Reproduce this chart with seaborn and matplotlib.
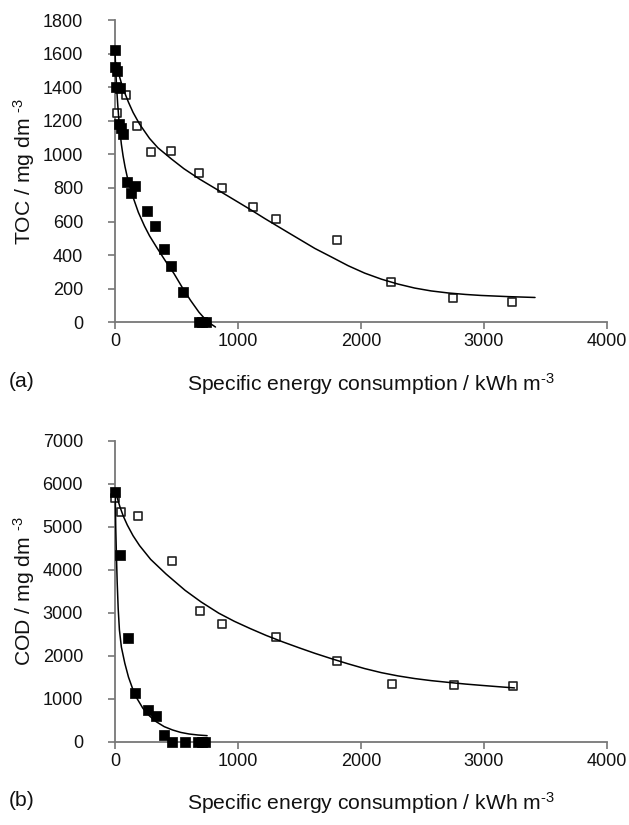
import matplotlib
matplotlib.use("Agg")
import matplotlib.pyplot as plt
import seaborn as sns

# ---------------- data ----------------
# (a) TOC vs specific energy consumption
toc_filled_x = [0, 0, 13, 8, 40, 30, 50, 68, 99, 161, 134, 262, 327, 396, 455, 557, 680, 710, 740]
toc_filled_y = [1620, 1520, 1494, 1404, 1395, 1180, 1155, 1120, 838, 812, 769, 665, 574, 435, 336, 182, 0, 0, 0]

toc_open_x = [20, 88, 176, 289, 455, 686, 866, 1124, 1306, 1801, 2247, 2745, 3227]
toc_open_y = [1246, 1355, 1168, 1013, 1023, 887, 799, 684, 614, 491, 240, 144, 124]

# trend lines (a)
toc_fit_filled_x = [0, 4, 9, 15, 22, 30, 40, 52, 66, 82, 100, 120, 147, 190, 240, 281,
                    340, 415, 480, 549, 615, 683, 750, 817]
toc_fit_filled_y = [1620, 1540, 1460, 1380, 1300, 1222, 1140, 1060, 990, 925, 865, 810, 745,
                    655, 573, 515, 445, 360, 290, 205, 130, 60, 5, -28]

toc_fit_open_x = [13, 25, 40, 60, 80, 110, 147, 200, 281, 348, 455, 560, 683, 820, 950,
                  1100, 1218, 1400, 1625, 1760, 1896, 2030, 2166, 2300, 2437, 2570, 2707,
                  2850, 2977, 3200, 3415]
toc_fit_open_y = [1544, 1500, 1455, 1405, 1365, 1310, 1250, 1180, 1095, 1040, 975, 915, 855,
                  795, 738, 672, 618, 538, 440, 389, 337, 293, 257, 228, 204, 187, 175,
                  166, 160, 153, 148]

# (b) COD vs specific energy consumption
cod_filled_x = [0, 40, 107, 166, 268, 335, 402, 463, 568, 675, 706, 731]
cod_filled_y = [5815, 4343, 2420, 1130, 745, 598, 165, 0, 0, 0, 0, 0]

cod_open_x = [0, 50, 187, 463, 691, 870, 1309, 1809, 2253, 2755, 3235]
cod_open_y = [5661, 5350, 5257, 4203, 3047, 2731, 2430, 1877, 1344, 1321, 1298]

# trend lines (b)
cod_fit_filled_x = [2, 6, 12, 18, 26, 36, 52, 80, 110, 147, 180, 227, 280, 335, 400, 468,
                    535, 602, 675, 749]
cod_fit_filled_y = [5800, 5000, 4300, 3700, 3100, 2600, 2200, 1823, 1500, 1203, 1000, 776,
                    600, 465, 350, 272, 215, 179, 155, 140]

cod_fit_open_x = [15, 40, 67, 100, 147, 200, 290, 415, 570, 700, 843, 970, 1100, 1230, 1365,
                  1500, 1625, 1760, 1896, 2030, 2166, 2300, 2437, 2570, 2707, 2850, 2977,
                  3110, 3248]
cod_fit_open_y = [5700, 5466, 5250, 5040, 4790, 4560, 4240, 3900, 3520, 3250, 2990, 2800,
                  2630, 2470, 2320, 2180, 2055, 1930, 1810, 1700, 1605, 1530, 1468, 1420,
                  1380, 1340, 1310, 1280, 1250]

x_ticks = [0, 1000, 2000, 3000, 4000]
toc_ticks = list(range(0, 1801, 200))
cod_ticks = list(range(0, 7001, 1000))

# ---------------- style ----------------
sns.set_style("ticks")
plt.rcParams["font.family"] = ["Liberation Sans", "DejaVu Sans"]
plt.rcParams["mathtext.fontset"] = "custom"
plt.rcParams["mathtext.rm"] = "Liberation Sans"
plt.rcParams["mathtext.default"] = "regular"

AX_COLOR = "#777777"
TEXT_COLOR = "#111111"
TICK_FS = 13
LABEL_FS = 15.2

fig = plt.figure(figsize=(6.29, 8.25), dpi=100)
ax_a = fig.add_axes([0.1828, 0.6093, 0.7822, 0.3664])
ax_b = fig.add_axes([0.1828, 0.1010, 0.7822, 0.3648])


def draw_panel(ax, fx, fy, ox, oy, ffx, ffy, fox, foy, yticks, ylabel, tag):
    sns.scatterplot(x=ox, y=oy, ax=ax, marker="s", s=34, facecolor="white",
                    edgecolor="#222222", linewidth=1.2, zorder=3, clip_on=False)
    sns.scatterplot(x=fx, y=fy, ax=ax, marker="s", s=52, color="black",
                    edgecolor="black", linewidth=0.5, zorder=4, clip_on=False)
    sns.lineplot(x=fox, y=foy, ax=ax, sort=False, estimator=None, color="black",
                 linewidth=1.1, zorder=5)
    sns.lineplot(x=ffx, y=ffy, ax=ax, sort=False, estimator=None, color="black",
                 linewidth=1.1, zorder=5)
    for line in ax.get_lines():
        line.set_clip_on(False)
        line.set_solid_joinstyle("round")

    ax.set_xlim(0, 4000)
    ax.set_ylim(0, yticks[-1])
    ax.set_xticks(x_ticks)
    ax.set_yticks(yticks)
    ax.tick_params(axis="both", labelsize=TICK_FS, colors=AX_COLOR, labelcolor=TEXT_COLOR,
                   length=5, width=1.2, direction="out")
    ax.tick_params(axis="x", pad=3)
    ax.tick_params(axis="y", pad=18)
    sns.despine(ax=ax)
    for side in ("left", "bottom"):
        ax.spines[side].set_color(AX_COLOR)
        ax.spines[side].set_linewidth(1.3)

    ax.set_xlabel(r"Specific energy consumption / kWh m$^{\text{-3}}$", fontsize=LABEL_FS,
                  color=TEXT_COLOR)
    ax.xaxis.set_label_coords(0.52, -0.16)
    ax.set_ylabel(r"%s / mg dm $^{\text{-3}}$" % ylabel, fontsize=LABEL_FS, color=TEXT_COLOR)
    ax.yaxis.set_label_coords(-0.158, 0.5)
    ax.text(-0.215, -0.195, tag, transform=ax.transAxes, fontsize=LABEL_FS,
            ha="left", va="center", color=TEXT_COLOR)


draw_panel(ax_a, toc_filled_x, toc_filled_y, toc_open_x, toc_open_y,
           toc_fit_filled_x, toc_fit_filled_y, toc_fit_open_x, toc_fit_open_y,
           toc_ticks, "TOC", "(a)")
draw_panel(ax_b, cod_filled_x, cod_filled_y, cod_open_x, cod_open_y,
           cod_fit_filled_x, cod_fit_filled_y, cod_fit_open_x, cod_fit_open_y,
           cod_ticks, "COD", "(b)")

fig.savefig("out.png", dpi=100, facecolor="white")
